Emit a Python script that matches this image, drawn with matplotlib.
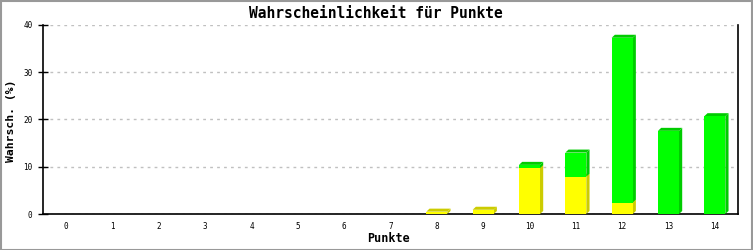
import matplotlib
matplotlib.use("Agg")
import matplotlib.pyplot as plt
from matplotlib.patches import Rectangle, Polygon

points = list(range(15))
tick_labels = [str(p) for p in points]
yellow = [0, 0, 0, 0, 0, 0, 0, 0, 0.5, 0.9, 9.7, 7.9, 2.4, 0, 0]
green = [0, 0, 0, 0, 0, 0, 0, 0, 0, 0, 0.7, 5.1, 34.9, 17.6, 20.7]

title = "Wahrscheinlichkeit für Punkte"
xlabel = "Punkte"
ylabel = "Wahrsch. (%)"

W, H = 753, 250
fig = plt.figure(figsize=(W / 100, H / 100), dpi=100)
fig.patch.set_facecolor("white")
# outer border
fig.patches.append(Rectangle((0.5 / W, 0.5 / H), 1 - 1.5 / W, 1 - 1.5 / H,
                             transform=fig.transFigure, fill=False,
                             edgecolor="#999999", linewidth=1.5, zorder=10))

ax = fig.add_axes([43 / W, 36 / H, (738 - 43) / W, (214 - 25) / H])
ax.set_xlim(-0.5, 14.5)
ax.set_ylim(0, 40)

px_x = 15 / (738 - 43)
px_y = 40 / (214 - 25)
dx = 3.2 * px_x
dy = 3.0 * px_y
bw = 21 * px_x

series = [(yellow, "#ffff00", "#cccc00"), (green, "#00ff00", "#00cc00")]
for i, p in enumerate(points):
    bottom = 0.0
    for vals, front, side in series:
        v = vals[i]
        if v <= 0:
            continue
        top = bottom + v
        x0, x1 = p - bw / 2, p + bw / 2
        ax.add_patch(Polygon([(x1, bottom), (x1 + dx, bottom + dy), (x1 + dx, top + dy), (x1, top)],
                             closed=True, facecolor=side, edgecolor="none", zorder=3))
        ax.add_patch(Polygon([(x0, top), (x0 + dx, top + dy), (x1 + dx, top + dy), (x1, top)],
                             closed=True, facecolor=side, edgecolor="none", zorder=3))
        ax.add_patch(Rectangle((x0, bottom), bw, v, facecolor=front, edgecolor="none", zorder=4))
        bottom = top

ax.set_yticks([0, 10, 20, 30, 40])
ax.set_yticklabels(["0", "10", "20", "30", "40"])
ax.set_xticks(points)
ax.set_xticklabels(tick_labels)
ax.yaxis.grid(True, color="#c0c0c0", linestyle=(0, (2, 3)), linewidth=1)
ax.set_axisbelow(True)

mono = "DejaVu Sans Mono"
for lab in ax.get_xticklabels() + ax.get_yticklabels():
    lab.set_fontfamily(mono)
    lab.set_fontsize(5.5)
ax.tick_params(axis="y", direction="inout", length=7, width=1, pad=4, colors="black")
ax.tick_params(axis="x", length=0, pad=6)

ax.spines["top"].set_visible(False)
for s in ["left", "bottom", "right"]:
    ax.spines[s].set_linewidth(1.2)
    ax.spines[s].set_color("black")

fig.text(376 / W, 1 - 13 / H, title, ha="center", va="center",
         fontfamily=mono, fontweight="bold", fontsize=10.5)
fig.text(388 / W, 1 - 239 / H, xlabel, ha="center", va="center",
         fontfamily=mono, fontweight="bold", fontsize=8.5)
fig.text(11 / W, 1 - 121 / H, ylabel, ha="center", va="center", rotation=90,
         fontfamily=mono, fontweight="bold", fontsize=8.2)

fig.savefig("out.png", dpi=100)
